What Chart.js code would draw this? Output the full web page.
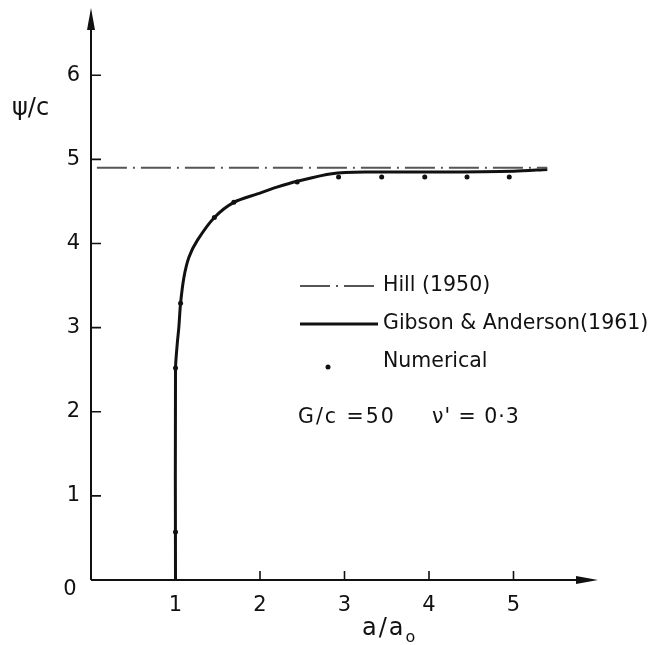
<!DOCTYPE html>
<html><head><meta charset="utf-8">
<script src="https://cdn.jsdelivr.net/npm/chart.js@4/dist/chart.umd.min.js"></script>
<style>html,body{margin:0;padding:0;background:#fff;} #wrap{width:651px;height:645px;position:relative;}</style>
</head><body><div id="wrap"><canvas id="c" width="651" height="645"></canvas></div>
<script>
// ---- data ----
const hillX = [0.07, 5.40];
const hillY = [4.90, 4.90];
const gibsonX = [1.00, 1.00, 1.02, 1.04, 1.06, 1.10, 1.16, 1.26, 1.46, 1.69, 1.97, 2.20, 2.44, 2.85, 3.30, 4.00, 5.00, 5.40];
const gibsonY = [0.00, 2.50, 2.80, 3.01, 3.29, 3.60, 3.84, 4.04, 4.31, 4.49, 4.59, 4.67, 4.74, 4.83, 4.85, 4.85, 4.86, 4.88];
const numericalX = [1.00, 1.00, 1.06, 1.46, 1.69, 2.44, 2.93, 3.44, 3.95, 4.45, 4.95];
const numericalY = [0.57, 2.52, 3.29, 4.31, 4.49, 4.73, 4.79, 4.79, 4.79, 4.79, 4.79];
const xTickValues = [1, 2, 3, 4, 5];
const yTickValues = [1, 2, 3, 4, 5, 6];
const originLabel = '0';
const xTitle = 'a/a';
const xTitleSub = 'o';
const yTitle = 'ψ/c';
const legendLabels = ['Hill (1950)', 'Gibson & Anderson(1961)', 'Numerical'];
const noteLeft = 'G/c =50';
const noteRight = "ν' = 0·3";

const FONT = '"DejaVu Sans", sans-serif';
const INK = '#111';
const HILL_COLOR = '#555';
const HILL_DASH = [30, 6, 2, 6];

const toPts = (xs, ys) => xs.map((x, i) => ({x, y: ys[i]}));

const decorPlugin = {
  id: 'decor',
  afterDraw(chart) {
    const ctx = chart.ctx;
    const xs = chart.scales.x, ys = chart.scales.y;
    const x0 = xs.getPixelForValue(0), y0 = ys.getPixelForValue(0);
    const xEnd = xs.getPixelForValue(xs.max), yEnd = ys.getPixelForValue(ys.max);
    ctx.save();
    ctx.strokeStyle = INK; ctx.fillStyle = INK; ctx.lineWidth = 2;
    // axes
    ctx.beginPath();
    ctx.moveTo(x0, y0); ctx.lineTo(xEnd - 10, y0);
    ctx.moveTo(x0, y0); ctx.lineTo(x0, yEnd + 10);
    ctx.stroke();
    // arrow heads
    ctx.beginPath();
    ctx.moveTo(xEnd, y0); ctx.lineTo(xEnd - 22, y0 - 4); ctx.lineTo(xEnd - 22, y0 + 4); ctx.closePath(); ctx.fill();
    ctx.beginPath();
    ctx.moveTo(x0, yEnd); ctx.lineTo(x0 - 4, yEnd + 22); ctx.lineTo(x0 + 4, yEnd + 22); ctx.closePath(); ctx.fill();
    // inward tick marks
    ctx.lineWidth = 1.6;
    ctx.beginPath();
    xTickValues.forEach(v => { const p = xs.getPixelForValue(v); ctx.moveTo(p, y0); ctx.lineTo(p, y0 - 9); });
    yTickValues.forEach(v => { const p = ys.getPixelForValue(v); ctx.moveTo(x0, p); ctx.lineTo(x0 + 10, p); });
    ctx.stroke();
    // origin label
    ctx.font = '21px ' + FONT; ctx.textAlign = 'center'; ctx.textBaseline = 'middle';
    ctx.fillText(originLabel, x0 - 21, y0 + 10);
    // y title
    ctx.textAlign = 'left';
    ctx.font = '24px ' + FONT;
    ctx.fillText(yTitle, 12, ys.getPixelForValue(5.6));
    // x title
    ctx.font = '24px ' + FONT;
    ctx.letterSpacing = '2px';
    ctx.fillText(xTitle, 362, 629);
    const w = ctx.measureText(xTitle).width;
    ctx.letterSpacing = '0px';
    ctx.font = '16px ' + FONT;
    ctx.fillText(xTitleSub, 362 + w, 638);
    // legend
    const lx0 = 300, lx1 = 378, tx = 383;
    const ly = [286, 324, 362];
    ctx.strokeStyle = HILL_COLOR; ctx.lineWidth = 2; ctx.setLineDash(HILL_DASH);
    ctx.beginPath(); ctx.moveTo(lx0, ly[0]); ctx.lineTo(lx1, ly[0]); ctx.stroke();
    ctx.setLineDash([]);
    ctx.strokeStyle = INK; ctx.lineWidth = 3;
    ctx.beginPath(); ctx.moveTo(lx0, ly[1]); ctx.lineTo(lx1, ly[1]); ctx.stroke();
    ctx.beginPath(); ctx.arc(328, 367, 2.5, 0, Math.PI * 2); ctx.fill();
    ctx.font = '20.5px ' + FONT; ctx.textAlign = 'left'; ctx.textBaseline = 'middle';
    legendLabels.forEach((t, i) => ctx.fillText(t, tx, ly[i]));
    ctx.letterSpacing = '2px';
    ctx.fillText(noteLeft, 298, 418);
    ctx.letterSpacing = '1px';
    ctx.fillText(noteRight, 432, 418);
    ctx.restore();
  }
};

new Chart(document.getElementById('c'), {
  type: 'scatter',
  data: {
    datasets: [
      { label: legendLabels[0], data: toPts(hillX, hillY), showLine: true, borderColor: HILL_COLOR, borderWidth: 2, borderDash: HILL_DASH, pointRadius: 0, fill: false },
      { label: legendLabels[1], data: toPts(gibsonX, gibsonY), showLine: true, borderColor: INK, borderWidth: 3, tension: 0.3, pointRadius: 0, fill: false },
      { label: legendLabels[2], data: toPts(numericalX, numericalY), showLine: false, pointRadius: 2.5, pointBackgroundColor: INK, pointBorderWidth: 0 }
    ]
  },
  options: {
    responsive: false, animation: false, devicePixelRatio: 1,
    layout: { padding: { top: 8, right: 53, left: 0, bottom: 0 } },
    plugins: { legend: { display: false }, tooltip: { enabled: false } },
    scales: {
      x: {
        type: 'linear', min: 0, max: 6,
        afterFit: s => { s.height = 65; s.paddingLeft = 0; s.paddingRight = 0; },
        afterBuildTicks: s => { s.ticks = xTickValues.map(v => ({value: v})); },
        grid: { display: false, drawTicks: false }, border: { display: false },
        ticks: { font: { family: FONT, size: 21 }, color: INK, padding: 13, maxRotation: 0, autoSkip: false }
      },
      y: {
        type: 'linear', min: 0, max: 6.8,
        afterFit: s => { s.width = 91; s.paddingTop = 0; s.paddingBottom = 0; },
        afterBuildTicks: s => { s.ticks = yTickValues.map(v => ({value: v})); },
        grid: { display: false, drawTicks: false }, border: { display: false },
        ticks: { font: { family: FONT, size: 21 }, color: INK, padding: 11, autoSkip: false }
      }
    }
  },
  plugins: [decorPlugin]
});
</script>
</body></html>
